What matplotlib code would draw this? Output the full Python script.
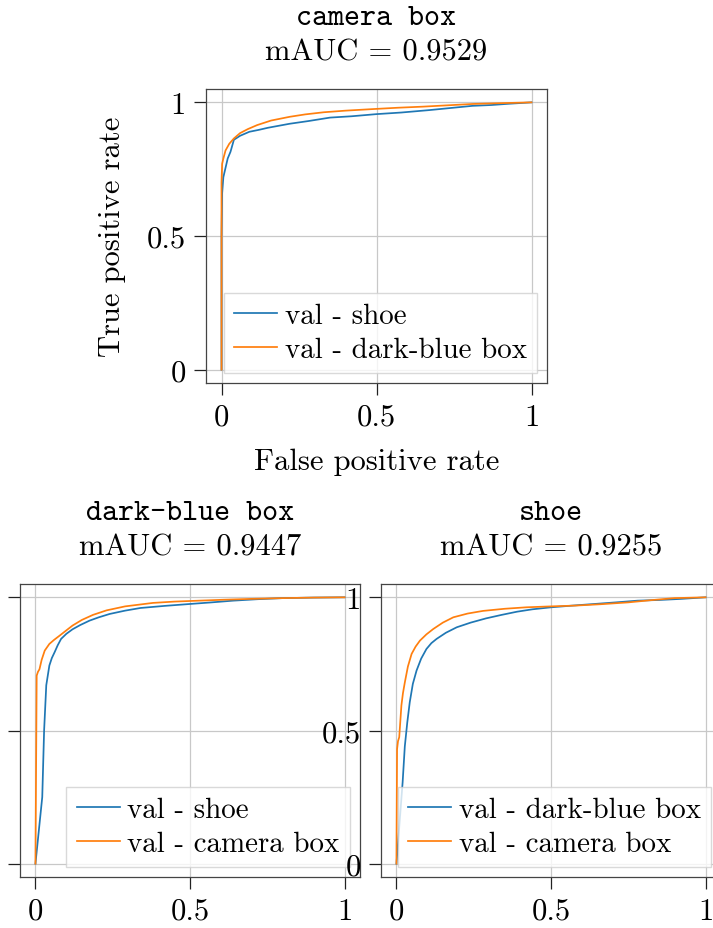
import matplotlib
matplotlib.use("Agg")
import matplotlib.pyplot as plt

plt.rcParams['font.family'] = ['cmr10', 'DejaVu Serif']
plt.rcParams['axes.formatter.use_mathtext'] = True
plt.rcParams['mathtext.fontset'] = 'cm'

# camera box panel
cam_shoe_fpr = [0.0, 0.0, 0.002, 0.006, 0.012, 0.02, 0.029, 0.04, 0.06, 0.09, 0.12, 0.15, 0.22,
                0.28, 0.35, 0.42, 0.5, 0.58, 0.67, 0.74, 0.81, 0.87, 0.93, 1.0]
cam_shoe_tpr = [0.0, 0.5, 0.66, 0.72, 0.75, 0.79, 0.815, 0.86, 0.875, 0.89, 0.897, 0.905, 0.92,
                0.93, 0.943, 0.948, 0.956, 0.962, 0.971, 0.979, 0.987, 0.99, 0.995, 1.0]
cam_dbb_fpr = [0.0, 0.0, 0.002, 0.006, 0.013, 0.025, 0.04, 0.06, 0.085, 0.115, 0.16, 0.22, 0.27,
               0.33, 0.4, 0.49, 0.57, 0.65, 0.73, 0.81, 0.9, 1.0]
cam_dbb_tpr = [0.0, 0.7, 0.77, 0.79, 0.82, 0.845, 0.865, 0.885, 0.9, 0.915, 0.932, 0.946, 0.955,
               0.963, 0.969, 0.975, 0.98, 0.984, 0.989, 0.994, 0.997, 1.0]

# dark-blue box panel
dbb_shoe_fpr = [0.0, 0.022, 0.028, 0.035, 0.045, 0.053, 0.062, 0.072, 0.083, 0.1, 0.12, 0.145, 0.175,
                0.205, 0.24, 0.29, 0.34, 0.42, 0.5, 0.57, 0.64, 0.72, 0.8, 0.9, 1.0]
dbb_shoe_tpr = [0.0, 0.25, 0.5, 0.67, 0.744, 0.772, 0.794, 0.82, 0.844, 0.863, 0.88, 0.896, 0.9125,
                0.925, 0.9375, 0.95, 0.96, 0.968, 0.975, 0.981, 0.9875, 0.993, 0.997, 0.999, 1.0]
dbb_cam_fpr = [0.0, 0.004, 0.008, 0.013, 0.02, 0.03, 0.045, 0.06, 0.078, 0.1, 0.12, 0.15, 0.186,
               0.23, 0.29, 0.38, 0.45, 0.53, 0.61, 0.695, 0.8, 0.9, 1.0]
dbb_cam_tpr = [0.0, 0.706, 0.72, 0.73, 0.765, 0.8, 0.825, 0.84, 0.856, 0.876, 0.894, 0.915, 0.934,
               0.951, 0.966, 0.979, 0.984, 0.9875, 0.991, 0.994, 0.997, 0.999, 1.0]

# shoe panel
shoe_dbb_fpr = [0.0, 0.02, 0.027, 0.035, 0.043, 0.053, 0.065, 0.08, 0.097, 0.113, 0.13, 0.16, 0.195,
                0.24, 0.29, 0.34, 0.39, 0.44, 0.5, 0.57, 0.64, 0.71, 0.78, 0.85, 0.92, 1.0]
shoe_dbb_tpr = [0.0, 0.306, 0.44, 0.53, 0.606, 0.675, 0.725, 0.77, 0.806, 0.828, 0.844, 0.867, 0.8875,
                0.905, 0.921, 0.934, 0.946, 0.955, 0.9625, 0.969, 0.975, 0.981, 0.9875, 0.99, 0.994, 1.0]
shoe_cam_fpr = [0.0, 0.002, 0.005, 0.009, 0.016, 0.021, 0.027, 0.037, 0.049, 0.062, 0.076, 0.097, 0.119,
                0.15, 0.184, 0.23, 0.28, 0.35, 0.42, 0.5, 0.58, 0.66, 0.75, 0.83, 0.9, 1.0]
shoe_cam_tpr = [0.0, 0.43, 0.46, 0.475, 0.594, 0.64, 0.68, 0.74, 0.7875, 0.815, 0.8375, 0.861, 0.881,
                0.905, 0.925, 0.939, 0.949, 0.957, 0.9625, 0.966, 0.969, 0.974, 0.981, 0.99, 0.997, 1.0]

panels = [
    ("camera box", "0.9529", [(cam_shoe_fpr, cam_shoe_tpr, "val - shoe"),
                              (cam_dbb_fpr, cam_dbb_tpr, "val - dark-blue box")]),
    ("dark-blue box", "0.9447", [(dbb_shoe_fpr, dbb_shoe_tpr, "val - shoe"),
                                 (dbb_cam_fpr, dbb_cam_tpr, "val - camera box")]),
    ("shoe", "0.9255", [(shoe_dbb_fpr, shoe_dbb_tpr, "val - dark-blue box"),
                        (shoe_cam_fpr, shoe_cam_tpr, "val - camera box")]),
]

ticks = [0, 0.5, 1]
tick_labels = ["0", "0.5", "1"]

W, H = 713, 929
fig = plt.figure(figsize=(W / 100, H / 100), dpi=100)

# axes boxes in pixels: left, top, right, bottom
boxes = [(206, 90, 547, 384), (20, 585, 360, 878), (381, 585, 721, 878)]

axes = []
for (name, auc, curves), (l, t, r, b) in zip(panels, boxes):
    ax = fig.add_axes([l / W, 1 - b / H, (r - l) / W, (b - t) / H])
    for fpr, tpr, lab in curves:
        ax.plot(fpr, tpr, lw=1.25, label=lab)
    ax.set_xlim(-0.05, 1.05)
    ax.set_ylim(-0.05, 1.05)
    ax.set_xticks(ticks, tick_labels)
    ax.set_yticks(ticks, tick_labels)
    ax.tick_params(labelsize=22, length=8.5, width=0.9, pad=6, color='#222222')
    ax.grid(True, color='#c8c8c8', lw=0.9)
    ax.set_axisbelow(True)
    for s in ax.spines.values():
        s.set_color('#444444')
        s.set_linewidth(0.9)
    ax.text(0.5, 1 + 71 / 294, name, transform=ax.transAxes, ha='center', va='center',
            fontsize=22, family='cmtt10')
    ax.text(0.5, 1 + 37.5 / 294, "mAUC = " + auc, transform=ax.transAxes, ha='center',
            va='center', fontsize=22)
    ax.legend(loc='lower right', fontsize=20.9, handlelength=1.5, handletextpad=0.25,
              labelspacing=0.25, borderpad=0.35, borderaxespad=0.35, fancybox=False,
              edgecolor='#d0d0d0', framealpha=0.8)
    axes.append(ax)

# left tick labels of the lower-left panel fall outside the canvas
axes[1].tick_params(axis='y', labelleft=False)

axes[0].set_xlabel("False positive rate", fontsize=22, labelpad=12)
axes[0].set_ylabel("True positive rate", fontsize=22, labelpad=15)

fig.savefig("out.png", dpi=100)
